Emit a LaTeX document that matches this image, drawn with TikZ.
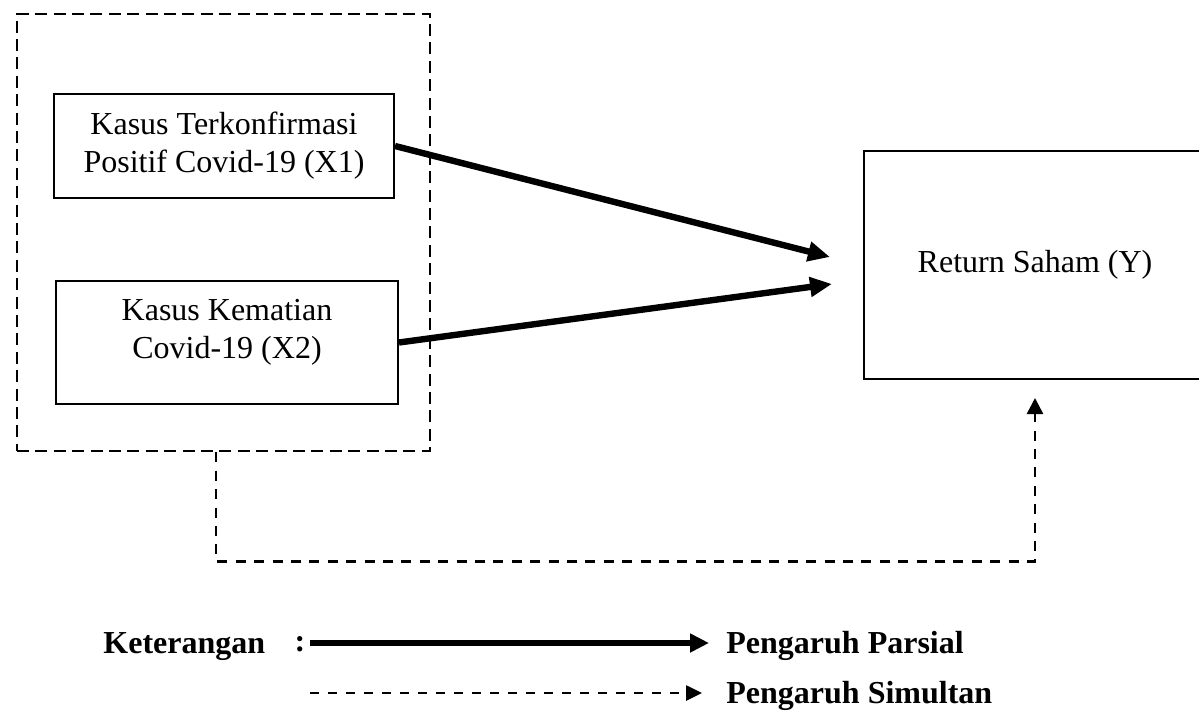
\documentclass[tikz,border=0pt]{standalone}
\usepackage{fontspec}
\setmainfont{Liberation Serif}
\usetikzlibrary{arrows.meta,positioning}

\begin{document}
\begin{tikzpicture}[x=0.5pt,y=-0.5pt,
  box/.style={draw,line width=1pt,align=center,inner sep=0pt,font=\fontsize{16}{19}\selectfont},
  txt/.style={align=center,inner sep=0pt,font=\fontsize{16}{19}\selectfont},
  group/.style={draw,line width=1.3pt,dash pattern=on 6pt off 3.2pt,minimum width=206.5pt,minimum height=218.5pt},
  parsial/.style={line width=3.2pt,-{Triangle[length=11pt,width=9.5pt]}},
  simul/.style={line width=1.3pt,dash pattern=on 5pt off 4.2pt,-{Triangle[length=8pt,width=8pt]}},
  lbl/.style={font=\fontsize{16}{19}\selectfont\bfseries,inner sep=0pt}]
\useasboundingbox (0,0) rectangle (1199,711);
\node[group] (grp) at (223.5,232.5) {};
\node[box,minimum width=170pt,minimum height=52pt] (x1) at (224,146) {Kasus Terkonfirmasi\\Positif Covid-19 (X1)};
\node[box,minimum width=171pt,minimum height=61.5pt,
  label={[txt,yshift=5pt]center:Kasus Kematian\\Covid-19 (X2)}] (x2) at (227,342.5) {};
\node[box,minimum width=171pt,minimum height=114pt] (ybox) at (1035,265) {Return Saham (Y)};
\coordinate (in1) at (830,257);
\coordinate (in2) at (832,284);
\coordinate (in3) at (1035,398);
\draw[parsial] (x1.east) -- (in1);
\draw[parsial] (x2.east) -- (in2);
\draw[simul] ([xshift=-3.75pt]grp.south) -- ++(0,109) -| (in3);
% keterangan
\node[lbl,anchor=base west] (ket) at (103,653.5) {Keterangan};
\node[lbl,anchor=base] (col) at (300,651) {:};
\coordinate (pa0) at (310,643); \coordinate (pa1) at (709,643);
\coordinate (sa0) at (310,693); \coordinate (sa1) at (702,693);
\draw[line width=3.2pt,-{Triangle[length=9.5pt,width=9pt]}] (pa0) -- (pa1);
\draw[line width=1.3pt,dash pattern=on 4.5pt off 4.5pt,-{Triangle[length=8pt,width=7.5pt]}] (sa0) -- (sa1);
\node[lbl,anchor=base west] (lp) at (726,653.5) {Pengaruh Parsial};
\node[lbl,anchor=base west] (ls) at (726,703.5) {Pengaruh Simultan};
\end{tikzpicture}
\end{document}
